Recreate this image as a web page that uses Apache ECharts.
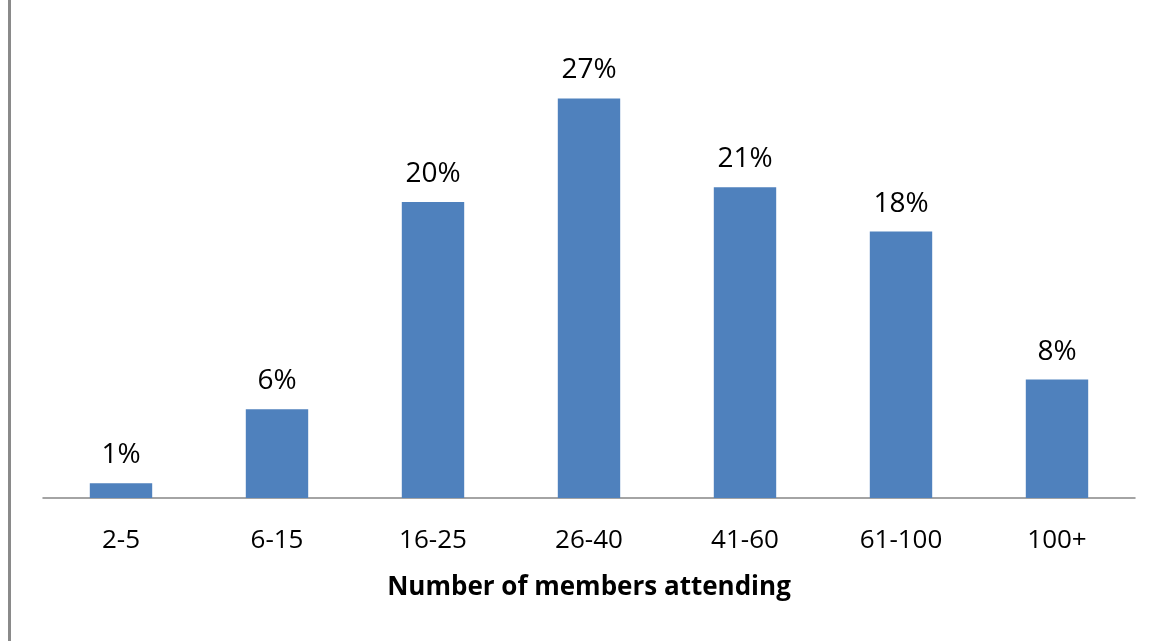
<!DOCTYPE html>
<html>
<head>
<meta charset="utf-8">
<script src="https://cdn.jsdelivr.net/npm/echarts@6/dist/echarts.min.js"></script>
<style>
  html, body { margin: 0; padding: 0; background: #fff; }
  #chart { width: 1163px; height: 641px; }
</style>
</head>
<body>
<div id="chart"></div>
<script>
// Share of meetings by number of members attending
const categories = ['2-5', '6-15', '16-25', '26-40', '41-60', '61-100', '100+'];
const shares = [1, 6, 20, 27, 21, 18, 8];
const axisTitle = 'Number of members attending';

const chart = echarts.init(document.getElementById('chart'), null, { renderer: 'canvas' });

chart.setOption({
  backgroundColor: '#ffffff',
  animation: false,
  textStyle: { fontFamily: 'Open Sans' },
  graphic: [
    {
      type: 'rect',
      left: 8,
      top: 0,
      shape: { width: 3, height: 641 },
      style: { fill: '#8a8a8a' }
    }
  ],
  grid: { left: 43, right: 28, top: 54, bottom: 143 },
  xAxis: {
    type: 'category',
    data: categories,
    name: axisTitle,
    nameLocation: 'middle',
    nameGap: 77,
    nameTextStyle: { fontSize: 26, fontWeight: 'bold', color: '#000', fontFamily: 'Open Sans' },
    axisLine: { lineStyle: { color: '#868686', width: 1.5 } },
    axisTick: { show: false },
    axisLabel: { fontSize: 26, color: '#000', margin: 30, fontFamily: 'Open Sans' }
  },
  yAxis: {
    type: 'value',
    min: 0,
    max: 30,
    show: false,
    splitLine: { show: false }
  },
  series: [
    {
      type: 'bar',
      data: shares,
      barCategoryGap: '60%',
      itemStyle: { color: '#4f81bd' },
      label: {
        show: true,
        position: 'top',
        distance: 14,
        formatter: p => p.value + '%',
        fontSize: 28,
        color: '#000',
        fontFamily: 'Open Sans'
      }
    }
  ]
});
</script>
</body>
</html>
